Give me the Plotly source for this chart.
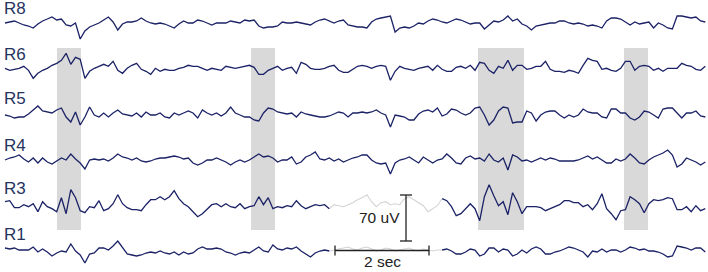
import numpy as np
import plotly.graph_objects as go

# ---------------- data ----------------
FS_DT = 0.1                  # seconds per sample
UV_PER_COUNT = 70.0 / 46.0   # calibration: raw counts -> microvolts

CHANNELS = ["R8", "R6", "R5", "R4", "R3", "R1"]

R8 = [0, 1, 2, 0, -2, -3, -5, -1, 2, 4,
      6, 3, 4, -2, -3, 0, -16, -8, -4, -2,
      0, 3, 6, 1, -7, -1, 1, 1, 2, 5,
      2, 0, -1, 0, -1, -3, -5, -1, 2, 0,
      0, 3, 2, 0, -2, 0, 0, 0, 2, 1,
      0, 3, 2, 3, -3, -5, -4, -4, -3, 1,
      0, 0, 1, 0, -1, -2, 1, 3, 4, 2,
      0, 2, 3, -2, -3, -4, -4, -5, 1, 4,
      5, 6, 7, -9, -5, -4, -5, -3, 0, -1,
      2, 4, 3, 1, 0, 2, 4, 3, 1, -1,
      0, 0, -6, -2, 2, 1, 3, 7, 2, 4,
      -1, -3, -7, -3, -2, -1, 0, 0, 2, 2,
      0, -1, 0, -1, -3, -2, -3, -5, 2, 5,
      5, 4, 1, -2, 1, -1, 0, 1, -5, 0,
      -2, -5, -6, 7, 7, 6, 5, 6, 2, 1]

R6 = [0, -2, -1, 0, 2, -2, -10, -5, -2, 0,
      3, 5, 8, 15, 4, 11, 9, -10, -3, 0,
      2, 4, 2, 7, -2, -5, 0, 3, 5, -1,
      -3, -6, 0, -3, -1, -2, -2, 0, 1, 3,
      2, 2, 0, -2, 0, -1, -2, 2, 1, 0,
      1, 2, 3, 1, -6, -6, -2, 0, 2, -2,
      0, 1, -5, 6, 4, 0, -1, -1, 0, 2,
      3, -2, -4, -4, -1, 2, 3, 2, 0, 2,
      3, 2, -12, -3, 2, 0, -1, -2, 0, 1,
      2, -2, 3, -1, -3, -3, 1, 2, 0, 3,
      -2, 6, 5, -2, -5, 2, 0, 8, -2, 3,
      3, -1, 0, 2, 2, 7, -1, -3, -3, -4,
      -2, -3, -5, 3, 10, 8, 7, -1, 0, -2,
      -3, 0, 7, 7, -2, 2, 3, 2, -2, 0,
      -3, 0, 0, 0, 5, 3, 2, -1, -2, 2]

R5 = [0, -1, -3, -2, -2, 1, 5, 9, 4, 3,
      2, 5, 7, -2, -7, 3, -10, -2, 8, 0,
      -2, 2, -2, 2, 5, 1, 0, -1, 2, -2,
      3, 0, 0, 2, -2, -3, 2, 0, 2, 4,
      2, -3, 5, 2, 0, 2, -1, 2, 8, 2,
      0, -2, -2, -5, -6, 2, 7, 6, 3, 2,
      1, 2, -2, 3, 1, 0, -1, -2, -2, -1,
      1, 3, 2, -2, 2, 2, 3, 2, 3, 5,
      2, 0, -12, 0, -1, -2, -5, -5, 1, 4,
      5, 3, 7, -1, 1, 6, 5, 2, 0, 2,
      7, 8, 0, -10, -5, 4, 8, 7, -8, -7,
      -7, 4, 2, -6, 0, 3, 4, 4, 0, -3,
      0, -2, 0, 6, 3, 2, 2, -2, -3, 6,
      6, 2, 2, -3, -5, -2, 4, 3, 0, -3,
      6, 7, 7, 2, -3, 2, 2, 4, -1, -2]

R4 = [0, 2, 3, 5, 1, -2, 2, -3, 2, -2,
      -4, -1, 2, 0, 6, 1, -3, -9, 0, 1,
      0, 1, -1, 2, 6, 3, 2, 0, 2, -1,
      -2, -1, 1, 2, 2, 3, 4, 3, 1, 2,
      -3, -5, -3, 0, 0, 2, 0, -2, -5, -2,
      0, -2, 0, 3, 6, 3, 4, 2, -2, 0,
      0, 3, -4, -2, 3, 5, 8, 1, 0, 2,
      -1, 1, -2, 0, 2, 3, 5, 5, 0, -3,
      -4, -3, -14, -3, 0, 1, 3, 0, -3, 3,
      0, -3, 0, 1, 6, 2, -3, -4, 2, 4,
      1, 2, -1, 6, 0, -2, 2, -10, 5, 3,
      -1, 0, -2, 0, 2, 0, 2, 1, -1, -1,
      -1, -1, 0, 2, 4, 1, 3, 0, -3, -3,
      1, -1, 1, 6, 2, -3, -4, 0, 3, 5,
      7, 10, 5, -7, -4, 2, 0, -2, -5, -2]

R3 = [5, 6, -1, -1, 2, 0, 3, -5, 5, 0,
      -2, -5, 9, -7, 17, 9, -4, -6, 0, -1,
      6, -4, -2, 3, 12, 3, -1, -3, -3, -4,
      2, 7, 7, 10, 7, 10, 16, 8, 3, 0,
      -5, -10, -7, -2, 2, 3, 0, 3, 0, -1,
      3, -2, 0, 1, 10, 2, 9, -2, 0, -1,
      1, 0, 6, 1, -2, 0, 2, 1, 2, -2,
      2, 1, 0, 2, 4, 7, 9, 12, 5, 0,
      4, 5, 2, 3, 2, 8, 10, 7, 4, 1,
      -5, -2, 1, 8, 6, 0, -9, -7, -2, 3,
      -2, -14, 10, 22, 11, 1, 5, -8, 14, 5,
      -7, 0, 0, 0, -1, -4, -2, 0, 2, 6,
      6, 4, 4, 0, 2, -3, 3, 13, -2, -7,
      -13, -4, -3, 10, 7, 3, -6, 3, 7, 6,
      7, 9, 8, -3, -3, 0, -5, 1, -4, -2]

R1 = [3, 2, 3, 1, 1, 1, 4, -1, 2, -1,
      -5, -2, 0, -1, 7, 0, -4, -12, -3, -2,
      3, 3, 1, 5, 10, 3, -3, -4, -5, -4,
      -2, -1, -2, 0, -2, -3, -1, -4, -1, -3,
      -2, 2, 4, 2, 2, 3, 2, -1, -2, -4,
      -2, -1, -2, 1, 4, 0, -1, 6, 2, 1,
      3, 2, 4, 0, -3, -6, -2, 0, 1, 0,
      1, 2, 3, 4, 2, 1, 3, 4, 2, 0,
      1, 3, 2, 0, 1, 2, 3, 1, 0, 2,
      1, 0, 1, 1, 2, 0, -3, -3, -1, 2,
      1, -5, -3, 3, 3, -1, 2, 1, -5, -3,
      1, -2, 2, 4, 2, -3, -3, -1, 0, 2,
      4, 3, 1, -1, -6, 0, -1, 2, -1, 1,
      1, -1, 1, 4, 3, 1, 2, 0, 0, -1,
      -3, -6, -5, 5, 4, 3, 1, 3, 3, -1]

SIGNALS = [R8, R6, R5, R4, R3, R1]
# channels whose segment between these sample indices is artefact (drawn faint)
ARTEFACT_CHANNELS = ["R3", "R1"]
ARTEFACT_SPAN = (69, 93)

# highlighted events (start, end) in seconds
EVENTS = [(1.106, 1.617), (5.234, 5.745), (10.064, 11.043), (13.17, 13.68)]

SCALE_UV = 70
SCALE_SEC = 2

# ---------------- layout helpers ----------------
W, H = 708, 272
PX_PER_SEC = 47.0
X0_PX = 5.0
UV_PER_PX = UV_PER_COUNT


def xd(px):
    return (px - X0_PX) / PX_PER_SEC


def yd(py):
    return -py * UV_PER_PX


BASELINES_PX = [23, 68.3, 115, 160, 206.7, 251]
LABEL_Y_PX = [8.5, 54, 98, 145.5, 188.5, 234.5]

TRACE = "#1b2266"
FAINT = "#d4d4d4"
BAND = "#d9d9d9"
INK = "#222222"

t = np.arange(len(R8)) * FS_DT

fig = go.Figure()

for name, sig, base in zip(CHANNELS, SIGNALS, BASELINES_PX):
    y = np.array(sig, dtype=float) * UV_PER_COUNT + yd(base)
    if name in ARTEFACT_CHANNELS:
        a, b = ARTEFACT_SPAN
        segs = [(a, b + 1, FAINT, 1.1), (0, a + 1, TRACE, 1.3), (b, len(sig), TRACE, 1.3)]
    else:
        segs = [(0, len(sig), TRACE, 1.3)]
    for s, e, col, w in segs:
        fig.add_trace(go.Scatter(x=t[s:e], y=y[s:e], mode="lines",
                                 line=dict(color=col, width=w),
                                 hoverinfo="skip", showlegend=False))

shapes = []
for s, e in EVENTS:
    shapes.append(dict(type="rect", xref="x", yref="y", x0=s, x1=e,
                       y0=yd(230), y1=yd(48), fillcolor=BAND,
                       line=dict(width=0), layer="below"))

# scale bars
vx = xd(406)
vtop = yd(195)
vbot = vtop - SCALE_UV
shapes.append(dict(type="line", x0=vx, x1=vx, y0=vtop, y1=vbot,
                   line=dict(color=INK, width=1.3)))
for yy in (vtop, vbot):
    shapes.append(dict(type="line", x0=vx - 6 / PX_PER_SEC, x1=vx + 6 / PX_PER_SEC,
                       y0=yy, y1=yy, line=dict(color=INK, width=1.3)))
hx0 = xd(335)
hx1 = hx0 + SCALE_SEC
hy = yd(250.5)
shapes.append(dict(type="line", x0=hx0, x1=hx1, y0=hy, y1=hy,
                   line=dict(color=INK, width=1.3)))
for xx in (hx0, hx1):
    shapes.append(dict(type="line", x0=xx, x1=xx, y0=hy + 5 * UV_PER_PX,
                       y1=hy - 5 * UV_PER_PX, line=dict(color=INK, width=1.3)))

annotations = []
for name, ly in zip(CHANNELS, LABEL_Y_PX):
    annotations.append(dict(x=xd(2), y=yd(ly), text=name, showarrow=False,
                            xanchor="left", yanchor="middle",
                            font=dict(family="Arial, Liberation Sans", size=17,
                                      color="#26335e")))
annotations.append(dict(x=xd(379), y=yd(217), text=f"{SCALE_UV} uV", showarrow=False,
                        xanchor="center", yanchor="middle",
                        font=dict(family="Arial, Liberation Sans", size=15.5, color=INK)))
annotations.append(dict(x=(hx0 + hx1) / 2, y=yd(261), text=f"{SCALE_SEC} sec",
                        showarrow=False, xanchor="center", yanchor="middle",
                        font=dict(family="Arial, Liberation Sans", size=15.5, color=INK)))

fig.update_layout(
    width=W, height=H, margin=dict(l=0, r=0, t=0, b=0),
    paper_bgcolor="white", plot_bgcolor="white",
    xaxis=dict(range=[xd(0), xd(W)], visible=False, fixedrange=True),
    yaxis=dict(range=[yd(H), yd(0)], visible=False, fixedrange=True),
    shapes=shapes, annotations=annotations, showlegend=False,
)

fig.write_html("out.html")
